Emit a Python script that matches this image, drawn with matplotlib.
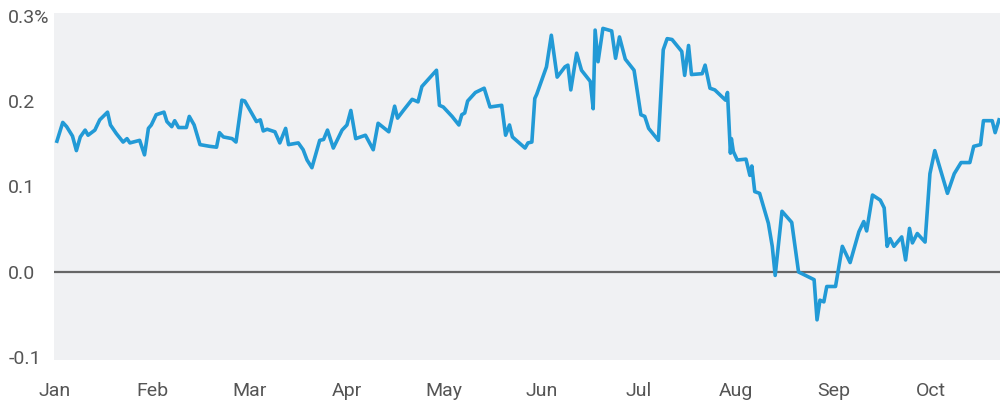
import matplotlib
matplotlib.use("Agg")
import matplotlib.pyplot as plt

# x positions in months from Jan 1 (0 = Jan, 1 = Feb, ...), values in %
months = ["Jan", "Feb", "Mar", "Apr", "May", "Jun", "Jul", "Aug", "Sep", "Oct"]
yticks = [-0.1, 0.0, 0.1, 0.2, 0.3]
ylabels = ["-0.1", "0.0", "0.1", "0.2", "0.3%"]

x = [0.02, 0.08, 0.12, 0.18, 0.22, 0.26, 0.31, 0.34, 0.41, 0.46, 0.54, 0.57, 0.63, 0.70,
     0.74, 0.77, 0.87, 0.92, 0.96, 0.99, 1.04, 1.12, 1.15, 1.20, 1.23, 1.27, 1.35, 1.38,
     1.43, 1.49, 1.59, 1.66, 1.69, 1.73, 1.82, 1.86, 1.92, 1.95, 2.07, 2.11, 2.14, 2.18,
     2.26, 2.31, 2.37, 2.40, 2.50, 2.55, 2.59, 2.64, 2.72, 2.76, 2.80, 2.86, 2.95, 3.00,
     3.04, 3.09, 3.19, 3.27, 3.32, 3.43, 3.49, 3.52, 3.58, 3.67, 3.73, 3.77, 3.92, 3.95,
     3.99, 4.08, 4.15, 4.18, 4.21, 4.24, 4.32, 4.41, 4.47, 4.59, 4.63, 4.67, 4.70, 4.78,
     4.83, 4.86, 4.90, 4.93, 4.95, 5.05, 5.10, 5.16, 5.24, 5.27, 5.30, 5.36, 5.41, 5.50,
     5.53, 5.55, 5.58, 5.63, 5.72, 5.76, 5.80, 5.86, 5.95, 6.02, 6.06, 6.10, 6.20, 6.25,
     6.29, 6.34, 6.44, 6.47, 6.51, 6.54, 6.65, 6.68, 6.73, 6.78, 6.89, 6.91, 6.94, 6.95,
     6.97, 7.01, 7.10, 7.14, 7.16, 7.19, 7.24, 7.33, 7.37, 7.40, 7.47, 7.57, 7.64, 7.71,
     7.80, 7.83, 7.86, 7.90, 7.93, 8.02, 8.09, 8.17, 8.26, 8.31, 8.34, 8.40, 8.48, 8.52,
     8.55, 8.58, 8.62, 8.70, 8.74, 8.78, 8.81, 8.86, 8.94, 8.99, 9.04, 9.10, 9.17, 9.24,
     9.31, 9.40, 9.44, 9.51, 9.54, 9.63, 9.66, 9.70]

vals = [0.153, 0.175, 0.170, 0.159, 0.142, 0.158, 0.166, 0.160, 0.166, 0.178, 0.187, 0.172,
        0.162, 0.152, 0.156, 0.151, 0.154, 0.137, 0.168, 0.172, 0.184, 0.187, 0.176, 0.170,
        0.177, 0.169, 0.169, 0.182, 0.172, 0.149, 0.147, 0.146, 0.163, 0.158, 0.156, 0.152,
        0.201, 0.200, 0.176, 0.178, 0.165, 0.167, 0.164, 0.151, 0.168, 0.149, 0.151, 0.143,
        0.131, 0.122, 0.154, 0.155, 0.166, 0.145, 0.166, 0.172, 0.189, 0.156, 0.160, 0.143,
        0.174, 0.164, 0.194, 0.180, 0.189, 0.202, 0.199, 0.217, 0.236, 0.195, 0.193, 0.182,
        0.172, 0.184, 0.186, 0.200, 0.210, 0.215, 0.193, 0.195, 0.160, 0.172, 0.158, 0.150,
        0.145, 0.151, 0.152, 0.203, 0.208, 0.240, 0.277, 0.228, 0.240, 0.242, 0.213, 0.256,
        0.236, 0.223, 0.191, 0.283, 0.246, 0.285, 0.282, 0.250, 0.275, 0.249, 0.236, 0.184,
        0.182, 0.168, 0.154, 0.260, 0.273, 0.272, 0.258, 0.230, 0.265, 0.231, 0.232, 0.242,
        0.215, 0.213, 0.201, 0.210, 0.139, 0.156, 0.141, 0.131, 0.132, 0.113, 0.124, 0.094,
        0.092, 0.057, 0.030, -0.004, 0.071, 0.058, 0.000, -0.004, -0.009, -0.056, -0.033,
        -0.035, -0.017, -0.017, 0.030, 0.011, 0.047, 0.059, 0.048, 0.090, 0.084, 0.075,
        0.030, 0.039, 0.030, 0.041, 0.014, 0.051, 0.034, 0.045, 0.035, 0.115, 0.142, 0.119,
        0.092, 0.115, 0.128, 0.128, 0.147, 0.149, 0.177, 0.177, 0.163, 0.178]

plt.rcParams['font.family'] = ['Liberation Sans Narrow', 'Roboto', 'DejaVu Sans']

fig = plt.figure(figsize=(10.01, 4.09), dpi=100)
ax = fig.add_axes([54 / 1001, 1 - 360 / 409, 946 / 1001, 347 / 409])
ax.set_facecolor("#f0f1f3")

ax.axhline(0, color="#666666", lw=1.6, zorder=1)
ax.plot(x, vals, color="#229ad6", lw=2.6, solid_joinstyle="round", zorder=2)

ax.set_xlim(-0.01, 9.71)
ax.set_ylim(-0.103, 0.303)

ax.set_xticks(range(len(months)))
ax.set_xticklabels(months)
ax.set_yticks(yticks)
ax.set_yticklabels(ylabels)
for lab in ax.get_yticklabels():
    lab.set_ha("left")

ax.tick_params(axis="both", length=0, labelsize=14, labelcolor="#555555")
ax.tick_params(axis="y", pad=33)
ax.tick_params(axis="x", pad=16)

for s in ax.spines.values():
    s.set_visible(False)

fig.savefig("out.png", dpi=100)
